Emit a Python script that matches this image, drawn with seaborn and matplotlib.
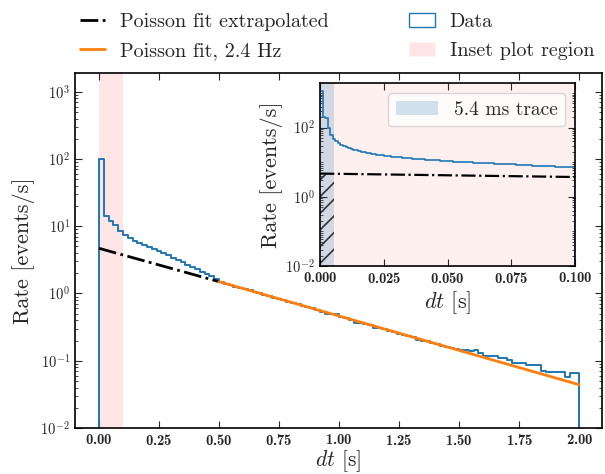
# Rate histogram of event spacing with Poisson fit and zoomed inset
import matplotlib
matplotlib.use('Agg')
import matplotlib.pyplot as plt
from matplotlib.patches import Patch
from matplotlib.lines import Line2D
from matplotlib.ticker import LogLocator, NullFormatter, FuncFormatter
import seaborn as sns
import numpy as np
import pandas as pd

# Histogram of dt, 0 - 2 s in 0.02 s bins (rate in events/s)
main_rate = [100, 14.4, 11.8, 10.3, 8.5, 7.3, 6.6, 6.1, 5.6, 5.25,
             4.9, 4.55, 4.22, 3.95, 3.68, 3.41, 3.18, 2.95, 2.66, 2.48,
             2.30, 2.12, 1.94, 1.81, 1.67, 1.50, 1.40, 1.35, 1.27, 1.22,
             1.15, 1.11, 1.06, 1.00, 0.96, 0.92, 0.87, 0.84, 0.80, 0.76,
             0.72, 0.69, 0.66, 0.63, 0.60, 0.57, 0.53, 0.50, 0.50, 0.49,
             0.45, 0.43, 0.40, 0.37, 0.365, 0.355, 0.34, 0.31, 0.31, 0.295,
             0.28, 0.27, 0.25, 0.24, 0.235, 0.222, 0.205, 0.20, 0.194, 0.185,
             0.176, 0.168, 0.160, 0.155, 0.148, 0.145, 0.145, 0.140, 0.145, 0.132,
             0.118, 0.118, 0.116, 0.109, 0.109, 0.104, 0.093, 0.094, 0.093, 0.086,
             0.087, 0.085, 0.070, 0.069, 0.069, 0.067, 0.067, 0.058, 0.066, 0.066]

# Zoomed histogram, 0 - 0.1 s in 1 ms bins
inset_rate = [1150, 200, 190, 100, 62, 47, 40, 35, 31, 29,
              27, 25.5, 24, 23, 22, 21, 20.3, 19.5, 18.8, 18.2,
              17.6, 17.0, 16.6, 16.1, 15.7, 15.3, 15.0, 14.7, 14.5, 14.1,
              13.9, 13.8, 13.5, 13.3, 13.0, 12.9, 12.8, 12.5, 12.3, 12.2,
              12.0, 11.9, 11.8, 11.6, 11.6, 11.4, 11.3, 11.1, 11.0, 10.9,
              10.8, 10.6, 10.4, 10.4, 10.3, 10.2, 10.1, 10.0, 9.95, 9.9,
              9.8, 9.7, 9.6, 9.6, 9.5, 9.4, 9.4, 9.3, 9.1, 9.1,
              9.0, 8.9, 8.9, 8.8, 8.6, 8.6, 8.6, 8.5, 8.4, 8.4,
              8.3, 8.2, 8.1, 8.0, 8.0, 7.9, 7.8, 7.8, 7.6, 7.7,
              7.6, 7.6, 7.5, 7.5, 7.4, 7.3, 7.4, 7.3, 7.3, 7.3]

# Poisson fit (straight line on log scale)
extrap_t = [0.0, 0.5]
extrap_rate = [4.7, 1.5]
fit_t = [0.5, 2.0]
fit_rate = [1.5, 0.044]

inset_region = [0.0, 0.1]
trace_len = 0.0054

main_edges = np.linspace(0, 2, len(main_rate) + 1)
inset_edges = np.linspace(0, 0.1, len(inset_rate) + 1)
df_main = pd.DataFrame({'dt': (main_edges[:-1] + main_edges[1:]) / 2, 'rate': main_rate})
df_inset = pd.DataFrame({'dt': (inset_edges[:-1] + inset_edges[1:]) / 2, 'rate': inset_rate})

sns.set_style('ticks')
plt.rcParams['font.family'] = 'serif'
plt.rcParams['font.serif'] = ['cmr10', 'DejaVu Serif']
plt.rcParams['mathtext.fontset'] = 'cm'
plt.rcParams['axes.formatter.use_mathtext'] = True
plt.rcParams['font.size'] = 12
plt.rcParams['axes.edgecolor'] = 'black'
plt.rcParams['axes.linewidth'] = 1.2
plt.rcParams['hatch.linewidth'] = 1.2

pink = 'red'
blue = '#1f77b4'
orange = '#ff7f0e'
tick_font = {'family': 'cmb10', 'size': 10.5}
label_size = 16


def log_label(v, pos):
    return r'$\mathbf{10^{%d}}$' % int(round(np.log10(v)))


def style_ticks(a):
    a.tick_params(which='both', direction='in', top=True, right=True)
    a.tick_params(which='major', length=5, labelsize=10.5)
    a.tick_params(which='minor', length=2.5)
    a.yaxis.set_major_formatter(FuncFormatter(log_label))
    a.yaxis.set_minor_formatter(NullFormatter())
    for lbl in a.get_xticklabels():
        lbl.set_fontproperties(tick_font)


fig = plt.figure(figsize=(6.05, 4.74), dpi=100)
ax = fig.add_axes([75 / 605, 46 / 474, 527 / 605, 355 / 474])

ax.axvspan(*inset_region, color=pink, alpha=0.1, lw=0)
sns.histplot(data=df_main, x='dt', weights='rate', bins=list(main_edges),
             element='step', fill=False, color=blue, lw=1.4, ax=ax)
ax.vlines([main_edges[0], main_edges[-1]], 1e-3, [main_rate[0], main_rate[-1]], color=blue, lw=1.4)
sns.lineplot(x=extrap_t, y=extrap_rate, color='k', linestyle='-.', lw=2, ax=ax)
sns.lineplot(x=fit_t, y=fit_rate, color=orange, lw=2, ax=ax)

ax.set_yscale('log')
ax.set_ylim(1e-2, 1.9e3)
ax.set_xlim(-0.1, 2.095)
ax.set_xticks(np.arange(0, 2.01, 0.25))
ax.yaxis.set_major_locator(LogLocator(base=10, numticks=10))
ax.yaxis.set_minor_locator(LogLocator(base=10, subs=np.arange(2, 10), numticks=10))
style_ticks(ax)
ax.set_xlabel('$dt$ [s]', fontsize=15.5, labelpad=0)
ax.set_ylabel('Rate [events/s]', fontsize=label_size)

# Inset
axins = ax.inset_axes([0.465, 0.456, 0.484, 0.515])
axins.axvspan(*inset_region, color=pink, alpha=0.06, lw=0)
axins.axvspan(0, trace_len, color=blue, alpha=0.2, lw=0, label='5.4 ms trace')
axins.fill_between([0, trace_len], 1e-3, extrap_rate[0], hatch='//', facecolor='none',
                   edgecolor='#333333', lw=0)
sns.histplot(data=df_inset, x='dt', weights='rate', bins=list(inset_edges),
             element='step', fill=False, color=blue, lw=1.2, ax=axins)
axins.vlines([inset_edges[-1]], 1e-3, [inset_rate[-1]], color=blue, lw=1.2)
sns.lineplot(x=extrap_t, y=extrap_rate, color='k', linestyle='-.', lw=1.6, ax=axins)
axins.set_yscale('log')
axins.set_xlim(*inset_region)
axins.set_ylim(1e-2, 1.9e3)
axins.set_yticks([1e-2, 1, 1e2])
axins.yaxis.set_minor_locator(LogLocator(base=10, subs=np.arange(1, 10), numticks=12))
axins.set_xticks(np.arange(0, 0.101, 0.025))
style_ticks(axins)
axins.set_xlabel('$dt$ [s]', fontsize=label_size, labelpad=2)
axins.set_ylabel('Rate [events/s]', fontsize=label_size, labelpad=2)
axins.legend(loc='upper right', fontsize=14, handlelength=2.2)

handles = [Line2D([], [], color='k', linestyle='-.', lw=2),
           Line2D([], [], color=orange, lw=2),
           Patch(facecolor='none', edgecolor=blue),
           Patch(facecolor=pink, alpha=0.1)]
labels = ['Poisson fit extrapolated', 'Poisson fit, 2.4 Hz', 'Data', 'Inset plot region']
fig.legend(handles, labels, ncol=2, loc='upper center', bbox_to_anchor=(0.557, 1.01),
           frameon=False, columnspacing=4.0, handlelength=1.25, handletextpad=0.75,
           fontsize=14.5)

fig.savefig('out.png', dpi=100)
